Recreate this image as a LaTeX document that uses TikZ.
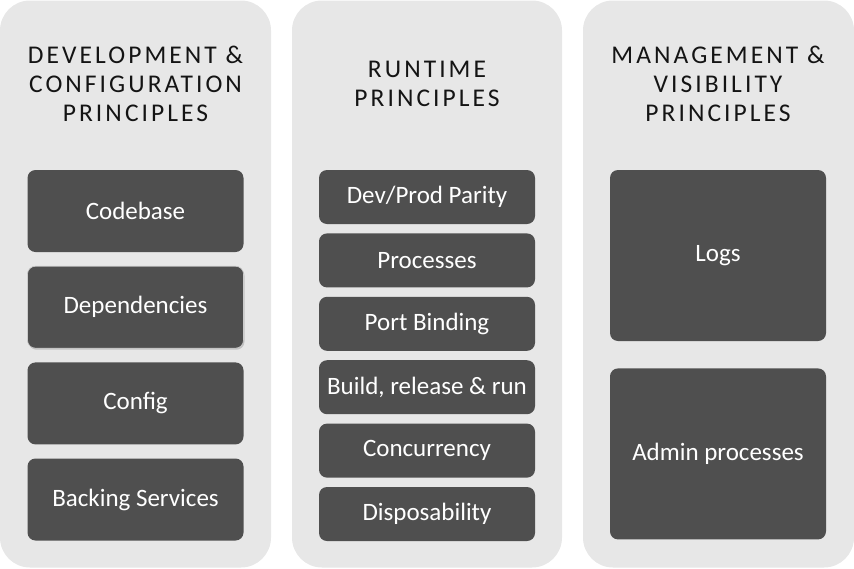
\documentclass[tikz,border=0pt]{standalone}
\usepackage{fontspec}
\setmainfont{Carlito}
\newfontfamily\headfont[LetterSpace=12]{Carlito}
\usetikzlibrary{positioning, shadows}
\definecolor{panelgray}{HTML}{E7E7E7}
\definecolor{boxgray}{HTML}{4F4F4F}
\definecolor{headink}{HTML}{141414}

\begin{document}
\begin{tikzpicture}[x=1pt, y=-1pt,
	panel/.style={fill=panelgray, rounded corners=30pt, minimum width=271pt, minimum height=567pt, inner sep=0pt},
	heading/.style={align=center, text=headink, inner sep=0pt, font=\headfont\fontsize{25.5}{29}\selectfont},
	item/.style={fill=boxgray, text=white, rounded corners=8pt, minimum width=216pt, inner sep=0pt, font=\fontsize{25}{29}\selectfont},
	devbox/.style={item, minimum height=82pt},
	runbox/.style={item, minimum height=54pt},
	mgmtbox/.style={item, minimum height=171pt}]
	\useasboundingbox (0,0) rectangle (854,568);
	% panels
	\node[panel] (devpanel) at (135.5,284) {};
	\node[panel, minimum width=270pt] (runpanel) at (427,284) {};
	\node[panel] (mgmtpanel) at (718.5,284) {};
	% headings
	\node[heading] (devhead) at (135.5,84) {DEVELOPMENT \&\\CONFIGURATION\\PRINCIPLES};
	\node[heading] (runhead) at (427,84) {RUNTIME\\PRINCIPLES};
	\node[heading] (mgmthead) at (718,84) {MANAGEMENT \&\\VISIBILITY\\PRINCIPLES};
	% development & configuration
	\node[devbox] (codebase) at (135.5,211) {Codebase};
	\node[devbox, below=13.7pt of codebase, draw=white!80!black, line width=0.6pt,
		drop shadow={shadow xshift=1pt, shadow yshift=-1.5pt, opacity=0.35}] (deps) {Dependencies};
	\node[devbox, below=13.7pt of deps] (config) {Config};
	\node[devbox, below=13.7pt of config] (backing) {Backing Services};
	% runtime
	\node[runbox] (parity) at (427,197) {Dev/Prod Parity};
	\node[runbox, below=9pt of parity] (procs) {Processes};
	\node[runbox, below=9pt of procs] (port) {Port Binding};
	\node[runbox, below=9pt of port] (build) {Build, release \& run};
	\node[runbox, below=9pt of build] (conc) {Concurrency};
	\node[runbox, below=9pt of conc] (disp) {Disposability};
	% management & visibility
	\node[mgmtbox] (logs) at (718,255.5) {Logs};
	\node[mgmtbox, below=27pt of logs] (admin) {Admin processes};
\end{tikzpicture}
\end{document}
